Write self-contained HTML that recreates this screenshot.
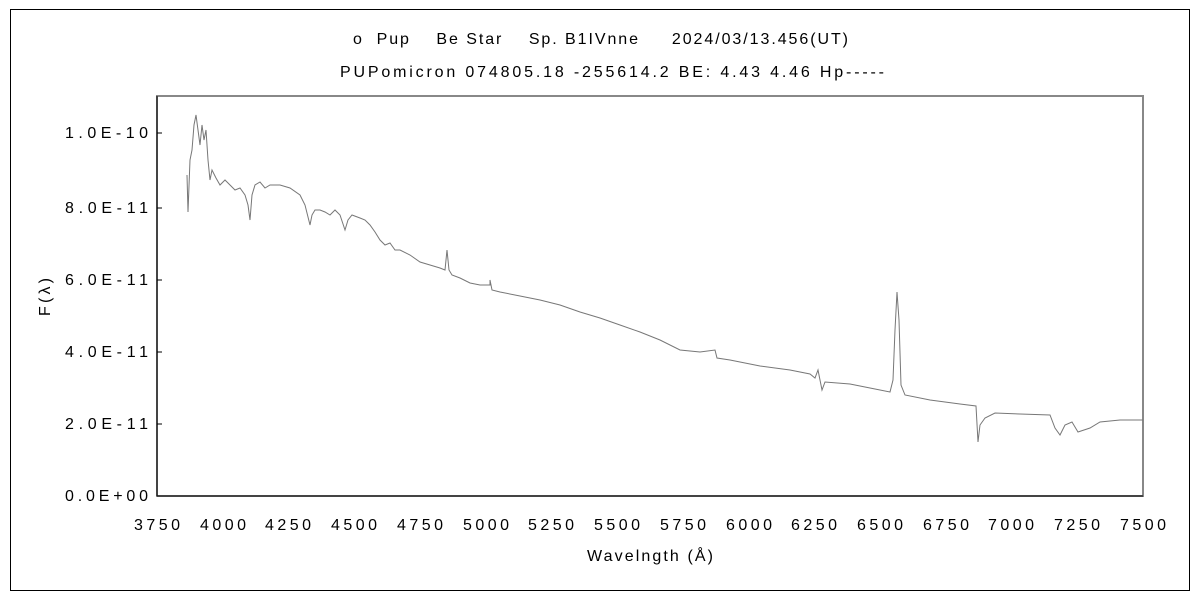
<!DOCTYPE html>
<html><head><meta charset="utf-8"><style>
body{margin:0;background:#fff}
svg text{font-family:"Liberation Sans","Noto Sans CJK JP",sans-serif;font-size:16px;fill:#000}
</style></head><body>
<svg width="1200" height="600" xmlns="http://www.w3.org/2000/svg">
<rect x="10.5" y="9.5" width="1179" height="581" fill="none" stroke="#000"/>
<text x="353" y="44" textLength="495" lengthAdjust="spacing" xml:space="preserve">ο  Pup    Be Star    Sp. B1IVnne     2024/03/13.456(UT)</text>
<text x="340" y="77" textLength="544" lengthAdjust="spacing">PUPomicron 074805.18 -255614.2 BE: 4.43 4.46 Hp-----</text>
<rect x="157" y="96" width="986" height="400" fill="none" stroke="#888" stroke-width="2"/>
<g stroke="#000" stroke-width="1">
<line x1="157" y1="96" x2="157" y2="496"/>
<line x1="157" y1="496" x2="1143" y2="496"/>
<line x1="157" y1="424" x2="162" y2="424"/>
<line x1="157" y1="352" x2="162" y2="352"/>
<line x1="157" y1="280" x2="162" y2="280"/>
<line x1="157" y1="208" x2="162" y2="208"/>
<line x1="157" y1="133" x2="162" y2="133"/>
</g>
<g>
<text x="65" y="501" textLength="83" lengthAdjust="spacing">0.0E+00</text>
<text x="65" y="429" textLength="83" lengthAdjust="spacing">2.0E-11</text>
<text x="65" y="357" textLength="83" lengthAdjust="spacing">4.0E-11</text>
<text x="65" y="285" textLength="83" lengthAdjust="spacing">6.0E-11</text>
<text x="65" y="213" textLength="83" lengthAdjust="spacing">8.0E-11</text>
<text x="65" y="138" textLength="83" lengthAdjust="spacing">1.0E-10</text>
</g>
<g>
<text x="134" y="530" textLength="46" lengthAdjust="spacing">3750</text><text x="200" y="530" textLength="46" lengthAdjust="spacing">4000</text><text x="265" y="530" textLength="46" lengthAdjust="spacing">4250</text><text x="331" y="530" textLength="46" lengthAdjust="spacing">4500</text><text x="397" y="530" textLength="46" lengthAdjust="spacing">4750</text><text x="463" y="530" textLength="46" lengthAdjust="spacing">5000</text><text x="528" y="530" textLength="46" lengthAdjust="spacing">5250</text><text x="594" y="530" textLength="46" lengthAdjust="spacing">5500</text><text x="660" y="530" textLength="46" lengthAdjust="spacing">5750</text><text x="726" y="530" textLength="46" lengthAdjust="spacing">6000</text><text x="791" y="530" textLength="46" lengthAdjust="spacing">6250</text><text x="857" y="530" textLength="46" lengthAdjust="spacing">6500</text><text x="923" y="530" textLength="46" lengthAdjust="spacing">6750</text><text x="988" y="530" textLength="46" lengthAdjust="spacing">7000</text><text x="1054" y="530" textLength="46" lengthAdjust="spacing">7250</text><text x="1120" y="530" textLength="46" lengthAdjust="spacing">7500</text>
<text x="587" y="561" textLength="126" lengthAdjust="spacing">Wavelngth (Å)</text>
</g>
<text x="0" y="0" textLength="38" lengthAdjust="spacing" transform="translate(50 316) rotate(-90)">F(λ)</text>
<polyline fill="none" stroke="#777" stroke-width="1" points="187,175 188,212 190,160 192,150 194,125 196,115 198,130 200,145 202,125 204,140 206,130 208,160 210,180 212,170 216,178 220,185 225,180 230,185 235,190 240,188 245,195 248,205 250,220 252,195 255,185 260,182 265,188 270,185 280,185 290,188 300,195 305,205 310,225 312,215 315,210 320,210 325,212 330,215 335,210 340,215 345,230 348,220 352,215 360,218 365,220 370,225 375,232 380,240 385,245 390,243 395,250 400,250 410,255 420,262 430,265 440,268 445,270 447,250 449,270 452,275 460,278 470,283 480,285 490,285 490,280 492,290 500,292 520,296 540,300 560,305 580,312 600,318 620,325 640,332 660,340 680,350 700,352 715,350 717,358 730,360 760,366 790,370 810,374 815,378 818,370 822,390 825,382 850,384 870,388 890,392 893,380 895,330 897,292 899,320 901,385 905,395 930,400 960,404 976,406 978,442 980,425 985,418 995,413 1020,414 1050,415 1055,428 1060,435 1065,425 1072,422 1078,432 1090,428 1100,422 1120,420 1143,420"/>
</svg>
</body></html>
